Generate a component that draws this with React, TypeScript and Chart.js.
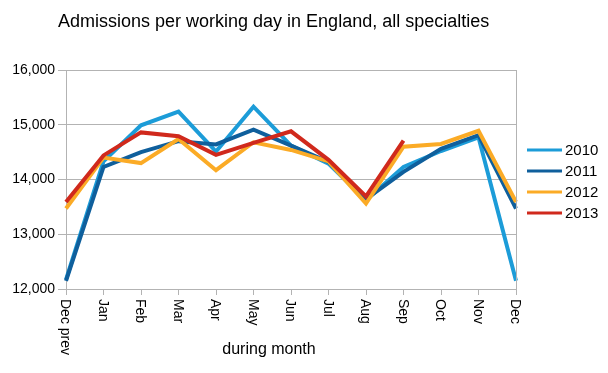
import React, { useEffect, useRef } from "react";
import { Chart, registerables } from "chart.js";

Chart.register(...registerables);

const TITLE = "Admissions per working day in England, all specialties";
const X_TITLE = "during month";
const categories = ["Dec prev", "Jan", "Feb", "Mar", "Apr", "May", "Jun", "Jul", "Aug", "Sep", "Oct", "Nov", "Dec"];
const seriesNames = ["2010", "2011", "2012", "2013"];
const s2010 = [12170, 14330, 14990, 15240, 14510, 15330, 14620, 14290, 13620, 14230, 14520, 14770, 12150];
const s2011 = [12150, 14230, 14500, 14700, 14640, 14910, 14620, 14320, 13640, 14140, 14560, 14810, 13470];
const s2012 = [13470, 14400, 14300, 14740, 14170, 14680, 14540, 14330, 13560, 14600, 14650, 14890, 13590];
const s2013 = [13590, 14440, 14860, 14790, 14450, 14670, 14880, 14360, 13690, 14710];
const seriesColors = ["#1c9cd8", "#0f5f9c", "#fbab26", "#d0291c"];
const yMin = 12000;
const yMax = 16000;
const yStep = 1000;

const FONT = "'Liberation Sans', Arial, Helvetica, sans-serif";
const GRID = "#b3b3b3";

const decorPlugin = {
  id: "decor",
  afterDraw(chart: any) {
    const ctx = chart.ctx;
    const area = chart.chartArea;
    const xs = chart.scales.x;
    ctx.save();
    ctx.strokeStyle = GRID;
    ctx.lineWidth = 1;
    ctx.beginPath();
    ctx.moveTo(Math.round(area.right) + 0.5, area.top);
    ctx.lineTo(Math.round(area.right) + 0.5, area.bottom);
    ctx.stroke();

    ctx.fillStyle = "#000";
    ctx.font = `18px ${FONT}`;
    ctx.textAlign = "left";
    ctx.textBaseline = "middle";
    ctx.fillText(TITLE, 58, 22);

    ctx.font = `14px ${FONT}`;
    categories.forEach((c, i) => {
      const x = xs.getPixelForValue(i);
      ctx.save();
      ctx.translate(x - 1, area.bottom + 10);
      ctx.rotate(Math.PI / 2);
      ctx.textAlign = "left";
      ctx.textBaseline = "middle";
      ctx.fillText(c, 0, 0);
      ctx.restore();
    });

    ctx.font = `16px ${FONT}`;
    ctx.textAlign = "center";
    ctx.textBaseline = "middle";
    ctx.fillText(X_TITLE, 269, 350);

    ctx.font = `15px ${FONT}`;
    ctx.textAlign = "left";
    ctx.textBaseline = "middle";
    seriesNames.forEach((n, i) => {
      const y = 150 + i * 21;
      ctx.strokeStyle = seriesColors[i];
      ctx.lineWidth = 3;
      ctx.beginPath();
      ctx.moveTo(527, y);
      ctx.lineTo(562, y);
      ctx.stroke();
      ctx.fillStyle = "#000";
      ctx.fillText(n, 565, y + 1);
    });
    ctx.restore();
  },
};

export default function App() {
  const ref = useRef<HTMLCanvasElement>(null);
  useEffect(() => {
    if (!ref.current) return;
    const all = [s2010, s2011, s2012, s2013];
    const chart = new Chart(ref.current, {
      type: "line",
      data: {
        labels: categories,
        datasets: all.map((d, i) => ({
          label: seriesNames[i],
          data: d,
          borderColor: seriesColors[i],
          backgroundColor: seriesColors[i],
          borderWidth: 4,
          pointRadius: 0,
          tension: 0,
          fill: false,
          order: all.length - i,
          borderJoinStyle: "miter" as const,
        })),
      },
      options: {
        animation: false,
        responsive: false,
        layout: { padding: { top: 70, right: 92, left: 0, bottom: 0 } },
        plugins: {
          legend: { display: false },
          title: { display: false },
          tooltip: { enabled: false },
        },
        scales: {
          x: {
            type: "category",
            offset: false,
            grid: {
              display: true,
              drawOnChartArea: false,
              drawTicks: true,
              tickLength: 6,
              color: GRID,
            },
            border: { display: true, color: GRID },
            ticks: { display: false },
            afterFit: (s: any) => {
              s.height = 84;
            },
          },
          y: {
            min: yMin,
            max: yMax,
            ticks: {
              stepSize: yStep,
              color: "#000",
              font: { family: FONT, size: 14 },
              padding: 3,
              callback: (v: any) => Number(v).toLocaleString("en-US"),
            },
            grid: { color: GRID, tickLength: 8 },
            border: { display: true, color: GRID },
            afterFit: (s: any) => {
              s.width = 66;
            },
          },
        },
      },
      plugins: [decorPlugin],
    });
    return () => chart.destroy();
  }, []);
  return (
    <div style={{ position: "absolute", left: 0, top: 0, width: 608, height: 373, background: "#fff" }}>
      <canvas ref={ref} width={608} height={373} />
    </div>
  );
}
